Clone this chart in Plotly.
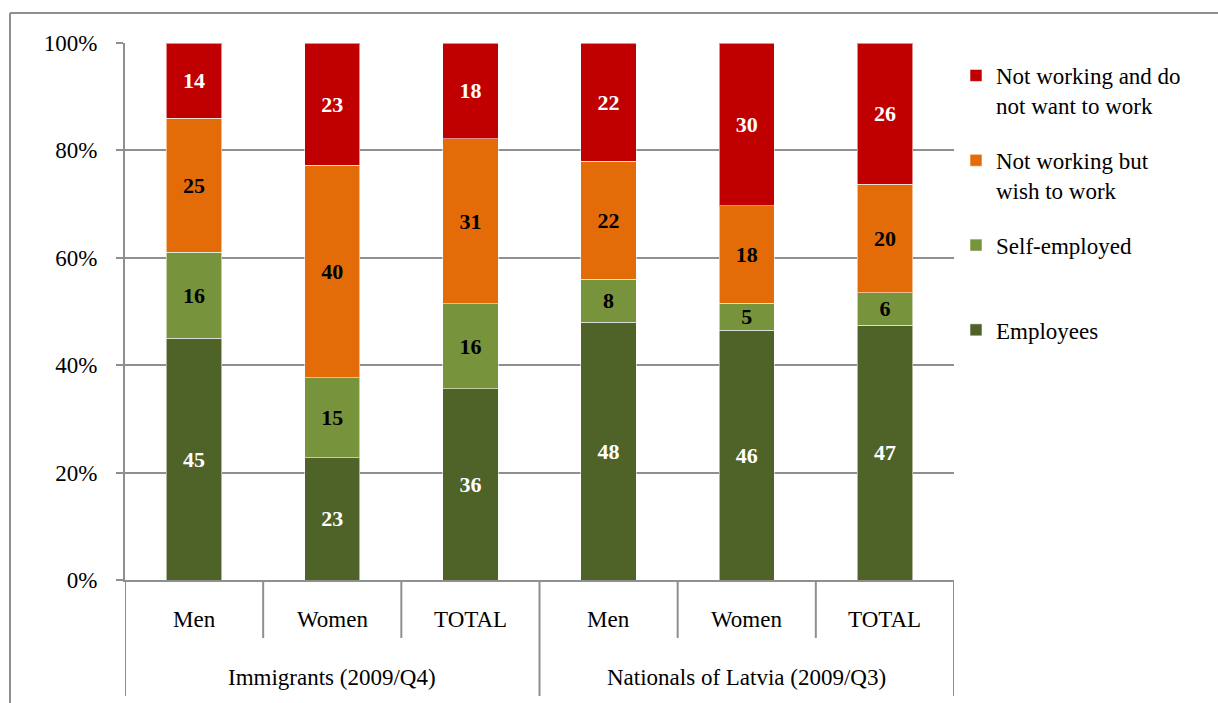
import plotly.graph_objects as go

# Category layout: two population groups, three sub-categories each
groups = ["Immigrants (2009/Q4)", "Nationals of Latvia (2009/Q3)"]
categories = ["Men", "Women", "TOTAL", "Men", "Women", "TOTAL"]

# Shares (%) by employment status, bottom to top of each stack
employees = [45, 23, 36, 48, 46, 47]
self_employed = [16, 15, 16, 8, 5, 6]
wish_to_work = [25, 40, 31, 22, 18, 20]
not_want_work = [14, 23, 18, 22, 30, 26]

y_ticks = [0, 20, 40, 60, 80, 100]
y_tick_labels = ["0%", "20%", "40%", "60%", "80%", "100%"]

series = [
    ("Employees", employees, "#4F6228", "white"),
    ("Self-employed<br>\u00a0", self_employed, "#77933C", "black"),
    ("Not working but<br>wish to work", wish_to_work, "#E36C09", "black"),
    ("Not working and do<br>not want to work", not_want_work, "#C00000", "white"),
]

W, H = 1218, 703
L, R, T, B = 125, 954, 43, 580  # plot area in pixels
GRID = "#8f8f8f"
FONT = "Liberation Serif"
FS = 23


def px_x(p):
    return (p - L) / (R - L)


def px_y(p):
    return (B - p) / (B - T)


xpos = list(range(len(categories)))

fig = go.Figure()
n = len(series)
for i, (name, vals, color, tcolor) in enumerate(series):
    fig.add_trace(go.Bar(
        x=xpos, y=vals, name=name, legendgroup=str(i), legendrank=n - i,
        marker=dict(color=color, line=dict(color="rgba(255,255,255,0.55)", width=1)),
        width=0.4,
        text=[str(v) for v in vals], textposition="inside",
        insidetextanchor="middle", textangle=0,
        textfont=dict(family=FONT, size=22, color=tcolor, weight="bold"),
        hoverinfo="skip",
    ))

shapes = []
# sub-category dividers below the axis
for k in [1, 2, 4, 5]:
    shapes.append(dict(type="line", xref="x", yref="paper", x0=k - 0.5, x1=k - 0.5,
                       y0=0, y1=px_y(638), line=dict(color=GRID, width=2)))
# group dividers
for k in [0, 3, 6]:
    shapes.append(dict(type="line", xref="x", yref="paper", x0=k - 0.5, x1=k - 0.5,
                       y0=0, y1=px_y(696), line=dict(color=GRID, width=2)))
# outer frame (top and left edges)
shapes.append(dict(type="line", xref="paper", yref="paper", x0=px_x(10), x1=px_x(W + 5),
                   y0=px_y(13), y1=px_y(13), line=dict(color=GRID, width=2)))
shapes.append(dict(type="line", xref="paper", yref="paper", x0=px_x(10), x1=px_x(10),
                   y0=px_y(13), y1=px_y(H + 5), line=dict(color=GRID, width=2)))

annotations = []
for i, c in enumerate(categories):
    annotations.append(dict(x=i, y=px_y(619), xref="x", yref="paper", text=c,
                            xanchor="center", yanchor="middle", showarrow=False,
                            font=dict(family=FONT, size=FS, color="black")))
for g, xc in zip(groups, [1, 4]):
    annotations.append(dict(x=xc, y=px_y(677), xref="x", yref="paper", text=g,
                            xanchor="center", yanchor="middle", showarrow=False,
                            font=dict(family=FONT, size=FS, color="black")))

fig.update_layout(
    width=W, height=H,
    margin=dict(l=L, r=W - R, t=T, b=H - B),
    barmode="stack", barnorm="percent",
    plot_bgcolor="white", paper_bgcolor="white",
    font=dict(family=FONT, size=FS, color="black"),
    uniformtext=dict(minsize=22, mode="show"),
    showlegend=True,
    legend=dict(x=px_x(956), y=px_y(54), xanchor="left", yanchor="top",
                traceorder="grouped", tracegroupgap=22, valign="top",
                font=dict(family=FONT, size=FS, color="black"),
                itemwidth=30, bgcolor="rgba(0,0,0,0)"),
    xaxis=dict(range=[-0.5, 5.5], showticklabels=False, showgrid=False, zeroline=False,
               showline=True, linecolor=GRID, linewidth=2, ticks=""),
    yaxis=dict(range=[0, 100], tickmode="array", tickvals=y_ticks, ticktext=y_tick_labels,
               showgrid=True, gridcolor=GRID, gridwidth=2, zeroline=False,
               showline=True, linecolor=GRID, linewidth=2,
               ticks="outside", ticklen=7, tickcolor=GRID, tickwidth=2,
               ticklabelstandoff=14,
               tickfont=dict(family=FONT, size=FS, color="black")),
    shapes=shapes, annotations=annotations,
)

fig.write_html("out.html")
